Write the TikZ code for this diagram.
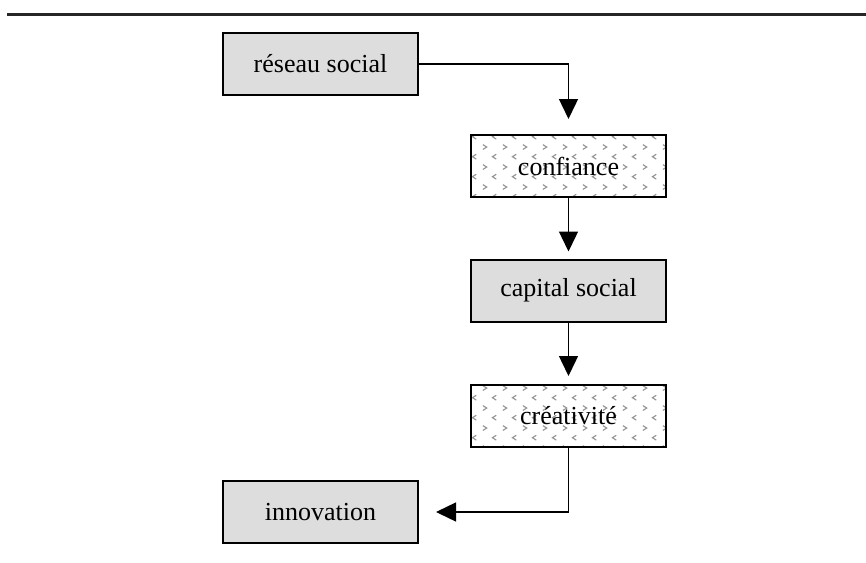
\documentclass[tikz,border=0pt]{standalone}
\usepackage{fontspec}
\setmainfont{Liberation Serif}
\usepackage{tikz}
\usetikzlibrary{arrows.meta,positioning,patterns}
\definecolor{boxgray}{RGB}{221,221,221}
\definecolor{markgray}{RGB}{150,150,150}
% little chevron marks, as in the hatched boxes
\pgfdeclarepatternformonly{chevrons}{\pgfpointorigin}{\pgfpoint{20pt}{20pt}}{\pgfpoint{20pt}{20pt}}{
  \pgfsetlinewidth{1.2pt}
  \pgfpathmoveto{\pgfpoint{3pt}{18pt}}\pgfpathlineto{\pgfpoint{7pt}{15.5pt}}\pgfpathlineto{\pgfpoint{3pt}{13pt}}
  \pgfpathmoveto{\pgfpoint{17pt}{8pt}}\pgfpathlineto{\pgfpoint{13pt}{5.5pt}}\pgfpathlineto{\pgfpoint{17pt}{3pt}}
  \pgfusepath{stroke}
}
\tikzstyle{arrow} = [line width=1.4pt,-{Triangle[length=20pt,width=19pt]}]
\tikzstyle{graybox} = [rectangle, minimum width=195pt, minimum height=62pt, text centered, draw=black, fill=boxgray, line width=2pt, font=\fontsize{26}{30}\selectfont]
\tikzstyle{dotbox} = [graybox, fill=white, pattern=chevrons, pattern color=markgray]

\begin{document}
\begin{tikzpicture}[x=1pt, y=-1pt]
    \useasboundingbox (0,0) rectangle (866,562);
    % Rule at the top
    \coordinate (ruleL) at (7,14.5);
    \coordinate (ruleR) at (866,14.5);
    \draw[line width=2.5pt, color=black!85] (ruleL) -- (ruleR);

    % Boxes
    \node[graybox] (reseau) at (320.5, 64) {réseau social};
    \node[dotbox] (confiance) at (568.5, 166) {confiance};
    \node[graybox] (capital) at (568.5, 290.5) {capital social};
    \node[dotbox] (creativite) at (568.5, 416) {créativité};
    \node[graybox] (innovation) at (320.5, 512) {innovation};

    % Arrows
    \draw[arrow, shorten >=15pt] (reseau.east) -| (confiance.north);
    \draw[arrow, shorten >=7pt] (confiance) -- (capital);
    \draw[arrow, shorten >=8pt] (capital) -- (creativite);
    \draw[arrow, shorten >=17pt] (creativite.south) |- (innovation.east);
\end{tikzpicture}
\end{document}
